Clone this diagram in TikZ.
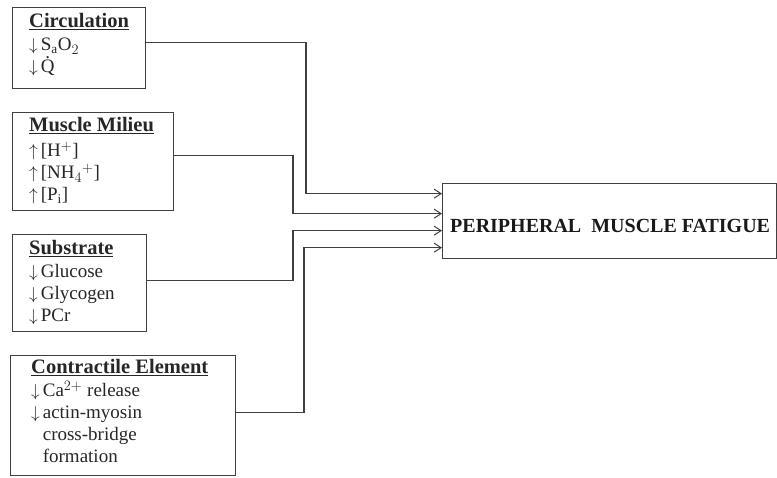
\documentclass[tikz,border=0pt]{standalone}
\usepackage{fontspec}
\setmainfont{Liberation Serif}
\usetikzlibrary{arrows.meta}
\newcommand{\Qdt}{{\ooalign{Q\cr\hidewidth\raisebox{0.74em}{.}\hidewidth\cr}}}
\newcommand{\dn}{$\downarrow$\kern3pt}
\newcommand{\up}{$\uparrow$\kern3pt}
\newcommand{\hd}[1]{\underline{\textbf{\fontsize{20.5}{22}\selectfont #1}}}
\begin{document}
\begin{tikzpicture}[x=1pt,y=-1pt,
  box/.style={draw=black!75, line width=1.3pt, inner sep=0pt, anchor=north west},
  txt/.style={anchor=north west, inner sep=0pt, align=left,
    font=\fontsize{19}{22}\selectfont, text=black!85},
  conn/.style={draw=black!75, line width=1.2pt,
    -{Straight Barb[length=7pt,width=9pt,line width=1pt]}}]
\useasboundingbox (0,0) rectangle (777,478);
% boxes
\node[box, minimum width=133pt, minimum height=81pt] (circ) at (12,7) {};
\node[box, minimum width=161pt, minimum height=98pt] (mil) at (12,112) {};
\node[box, minimum width=134pt, minimum height=97pt] (sub) at (12,234) {};
\node[box, minimum width=225pt, minimum height=120pt] (con) at (10,355) {};
\node[box, minimum width=334pt, minimum height=75pt] (fat) at (442,183) {};
% texts
\node[txt] (circt) at (29,13.5) {\hd{Circulation}\\[1pt]
  \dn S$_{\mathrm a}$O$_{2}$\\
  \dn \Qdt};
\node[txt] (milt) at (29,117.5) {\hd{Muscle Milieu}\\[3pt]
  \up [H$^{+}$]\\
  \up [NH$_4$$^{+}$]\\
  \up [P$_{\mathrm i}$]};
\node[txt] (subt) at (29,240.5) {\hd{Substrate}\\[1pt]
  \dn Glucose\\
  \dn Glycogen\\
  \dn PCr};
\node[txt] (cont) at (31,359.5) {\hd{Contractile Element}\\[1pt]
  \dn Ca$^{2+}$ release\\
  \dn actin-myosin\\
  \phantom{\dn}cross-bridge\\
  \phantom{\dn}formation};
\node[anchor=base west, inner sep=0pt, font=\fontsize{20}{24}\selectfont\bfseries,
  text=black!90] (title) at (450,233) {PERIPHERAL\ \ MUSCLE FATIGUE};
% routing coordinates
\coordinate (v1) at (306,0);
\coordinate (v2) at (293,0);
\coordinate (v3) at (293,0);
\coordinate (v4) at (304,0);
\coordinate (s1) at ([yshift=5.5pt]circ.east);
\coordinate (s2) at ([yshift=6pt]mil.east);
\coordinate (s3) at ([yshift=2.5pt]sub.east);
\coordinate (s4) at ([yshift=3pt]con.east);
\coordinate (t1) at ([yshift=27.5pt]fat.west);
\coordinate (t2) at ([yshift=7.5pt]fat.west);
\coordinate (t3) at ([yshift=-9.5pt]fat.west);
\coordinate (t4) at ([yshift=-26.5pt]fat.west);
\draw[conn] (s1) -- (s1 -| v1) |- (t1);
\draw[conn] (s2) -- (s2 -| v2) |- (t2);
\draw[conn] (s3) -- (s3 -| v3) |- (t3);
\draw[conn] (s4) -- (s4 -| v4) |- (t4);
\end{tikzpicture}
\end{document}
